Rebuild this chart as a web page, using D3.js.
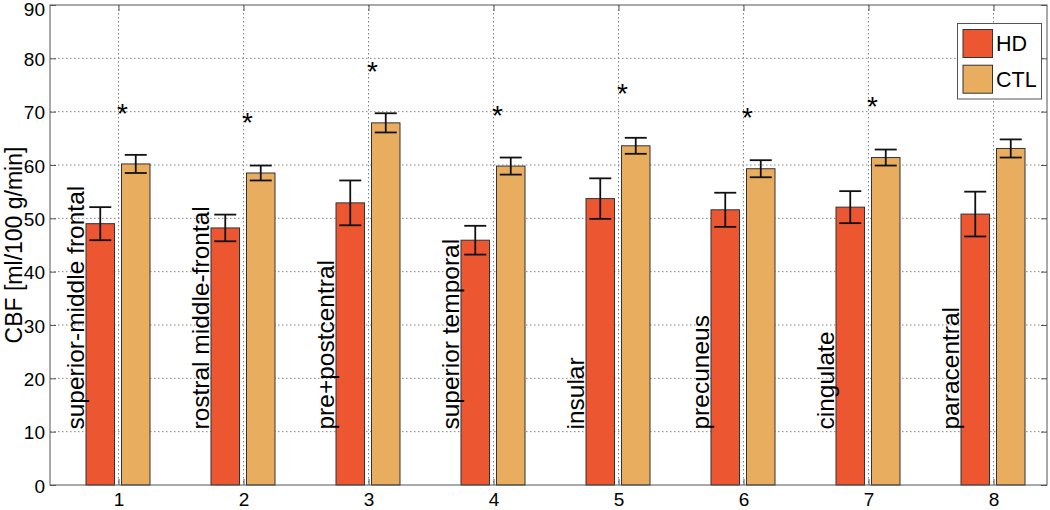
<!DOCTYPE html>
<html>
<head>
<meta charset="utf-8">
<script src="https://cdn.jsdelivr.net/npm/d3@7"></script>
<style>
  body { margin: 0; background: #fff; }
  svg { display: block; font-family: "Liberation Sans", Arial, Helvetica, sans-serif; }
</style>
</head>
<body>
<svg id="chart" width="1050" height="510"></svg>
<script>
// ---- data ----
const categories = [1, 2, 3, 4, 5, 6, 7, 8];
const regionLabels = ["superior-middle frontal", "rostral middle-frontal", "pre+postcentral",
  "superior temporal", "insular", "precuneus", "cingulate", "paracentral"];
const seriesNames = ["HD", "CTL"];
const hdValues  = [49.0, 48.2, 52.9, 45.9, 53.7, 51.6, 52.1, 50.8];
const hdErrors  = [3.1, 2.5, 4.2, 2.7, 3.8, 3.2, 3.0, 4.2];
const ctlValues = [60.2, 58.5, 67.9, 59.8, 63.6, 59.3, 61.4, 63.1];
const ctlErrors = [1.7, 1.4, 1.8, 1.6, 1.5, 1.6, 1.5, 1.7];
const starValues = [70.9, 69.2, 78.7, 70.5, 74.6, 70.1, 72.2, null];
const yTicks = [0, 10, 20, 30, 40, 50, 60, 70, 80, 90];
const yLabel = "CBF [ml/100 g/min]";
const colors = { HD: "#ec5631", CTL: "#e9ad5f" };

// ---- layout ----
const svg = d3.select("#chart");
const L = 50, R = 1047, T = 5, B = 485;

const x = d3.scaleLinear().domain([1, 8]).range([118.5, 993.5]);
const y = d3.scaleLinear().domain([0, 90]).range([B, T]);
const xSub = d3.scaleBand().domain(seriesNames).range([-32.5, 31.5]).paddingInner(0.197);

const frameColor = "#555";
const gridColor = "#858585";

// grid
const grid = svg.append("g");
grid.selectAll("line.hg").data(yTicks.filter(d => d > 0 && d < 90)).join("line")
  .attr("x1", L).attr("x2", R).attr("y1", d => y(d)).attr("y2", d => y(d))
  .attr("stroke", gridColor).attr("stroke-width", 1).attr("stroke-dasharray", "1.5,2.5");
grid.selectAll("line.vg").data(categories).join("line")
  .attr("x1", d => x(d)).attr("x2", d => x(d)).attr("y1", T).attr("y2", B)
  .attr("stroke", gridColor).attr("stroke-width", 1).attr("stroke-dasharray", "1.5,2.5");

// bars
const rows = categories.map((c, i) => ({
  c, label: regionLabels[i],
  bars: [
    { key: "HD", v: hdValues[i], e: hdErrors[i] },
    { key: "CTL", v: ctlValues[i], e: ctlErrors[i] }
  ],
  star: starValues[i]
}));

const groups = svg.append("g").selectAll("g").data(rows).join("g")
  .attr("transform", d => `translate(${x(d.c)},0)`);

groups.selectAll("rect").data(d => d.bars).join("rect")
  .attr("x", d => xSub(d.key)).attr("width", xSub.bandwidth())
  .attr("y", d => y(d.v)).attr("height", d => y(0) - y(d.v))
  .attr("fill", d => colors[d.key]).attr("stroke", "#333").attr("stroke-width", 1);

// error bars
const capW = 11;
const eb = groups.selectAll("g.eb").data(d => d.bars).join("g").attr("class", "eb")
  .attr("stroke", "#111").attr("stroke-width", 1.8);
const cx = d => xSub(d.key) + xSub.bandwidth() / 2;
eb.append("line")
  .attr("x1", cx).attr("x2", cx)
  .attr("y1", d => y(d.v + d.e)).attr("y2", d => y(d.v - d.e));
eb.append("line")
  .attr("x1", d => cx(d) - capW).attr("x2", d => cx(d) + capW)
  .attr("y1", d => y(d.v + d.e)).attr("y2", d => y(d.v + d.e));
eb.append("line")
  .attr("x1", d => cx(d) - capW).attr("x2", d => cx(d) + capW)
  .attr("y1", d => y(d.v - d.e)).attr("y2", d => y(d.v - d.e));

// region labels (rotated)
groups.append("text")
  .attr("transform", `translate(-35,${y(10.4)}) rotate(-90)`)
  .attr("font-size", 24.5).attr("fill", "#000")
  .text(d => d.label);

// stars
groups.filter(d => d.star != null).append("text")
  .attr("x", 4).attr("y", d => y(d.star) + 16)
  .attr("text-anchor", "middle").attr("font-size", 28).attr("fill", "#000")
  .text("*");

// frame
svg.append("rect").attr("x", L).attr("y", T).attr("width", R - L).attr("height", B - T)
  .attr("fill", "none").attr("stroke", frameColor).attr("stroke-width", 1);

// y axis
const yAxisL = svg.append("g").attr("transform", `translate(${L},0)`)
  .call(d3.axisLeft(y).tickValues(yTicks).tickSize(-6).tickPadding(5).tickFormat(d3.format("d")));
const yAxisR = svg.append("g").attr("transform", `translate(${R},0)`)
  .call(d3.axisRight(y).tickValues(yTicks).tickSize(-6).tickFormat(""));
// x axis
const xAxisB = svg.append("g").attr("transform", `translate(0,${B})`)
  .call(d3.axisBottom(x).tickValues(categories).tickSize(-6).tickPadding(8).tickFormat(d3.format("d")));
const xAxisT = svg.append("g").attr("transform", `translate(0,${T})`)
  .call(d3.axisTop(x).tickValues(categories).tickSize(-6).tickFormat(""));
[yAxisL, yAxisR, xAxisB, xAxisT].forEach(g => {
  g.select(".domain").remove();
  g.selectAll(".tick line").attr("stroke", frameColor);
  g.selectAll(".tick text").attr("font-size", 19).attr("fill", "#000")
    .attr("font-family", "Liberation Sans, Arial, sans-serif");
});
// keep the top tick label inside the picture
yAxisL.selectAll(".tick text").attr("dy", d => d === 90 ? "0.72em" : "0.38em")
  .attr("y", d => d === 90 ? -3 : 0);

// y label
svg.append("text")
  .attr("transform", `translate(21.5,${(T + B) / 2}) rotate(-90)`)
  .attr("text-anchor", "middle").attr("font-size", 23).attr("fill", "#000")
  .text(yLabel);

// legend
const lg = svg.append("g");
lg.append("rect").attr("x", 957.5).attr("y", 23.5).attr("width", 84).attr("height", 75.5)
  .attr("fill", "#fff").attr("stroke", frameColor).attr("stroke-width", 1);
const li = lg.selectAll("g.li").data(seriesNames).join("g").attr("class", "li")
  .attr("transform", (d, i) => `translate(963,${29.5 + i * 35.7})`);
li.append("rect").attr("width", 29.5).attr("height", 28)
  .attr("fill", d => colors[d]).attr("stroke", "#333").attr("stroke-width", 1);
li.append("text").attr("x", 33).attr("y", 21.5).attr("font-size", 21.5).attr("fill", "#000")
  .text(d => d);
</script>
</body>
</html>
